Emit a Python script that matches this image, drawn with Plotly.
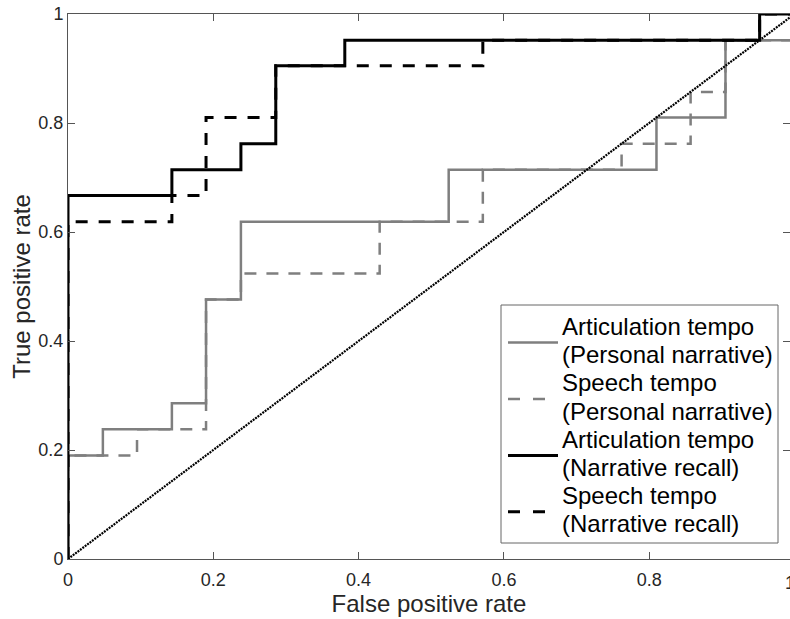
import plotly.graph_objects as go

# ROC threshold points (false positive rate, true positive rate)
art_pers_fpr = [0, 0, 0.048, 0.143, 0.190, 0.238, 0.524, 0.810, 0.905, 1.0]
art_pers_tpr = [0, 0.190, 0.238, 0.286, 0.476, 0.619, 0.714, 0.810, 0.952, 1.0]

sp_pers_fpr = [0, 0, 0.095, 0.190, 0.238, 0.429, 0.571, 0.762, 0.857, 0.905, 1.0]
sp_pers_tpr = [0, 0.190, 0.238, 0.476, 0.524, 0.619, 0.714, 0.762, 0.857, 0.952, 1.0]

art_rec_fpr = [0, 0, 0.143, 0.238, 0.286, 0.381, 0.952, 1.0]
art_rec_tpr = [0, 0.667, 0.714, 0.762, 0.905, 0.952, 1.0, 1.0]

sp_rec_fpr = [0, 0, 0.143, 0.190, 0.286, 0.571, 0.952, 1.0]
sp_rec_tpr = [0, 0.619, 0.667, 0.810, 0.905, 0.952, 1.0, 1.0]

chance = [0, 1]

name_lines = [
    ("Articulation tempo", "(Personal narrative)"),
    ("Speech tempo", "(Personal narrative)"),
    ("Articulation tempo", "(Narrative recall)"),
    ("Speech tempo", "(Narrative recall)"),
]
tick_vals = [0, 0.2, 0.4, 0.6, 0.8, 1]
tick_text = ["0", "0.2", "0.4", "0.6", "0.8", "1"]

FONT = "Liberation Sans, Arial, Helvetica, sans-serif"
GRAY = "#7f7f7f"
TXT = "#262626"
AXC = "#555555"

W, H = 790, 619
L, T, B = 68, 14, 60
PW = 726.5          # pixel width of the 0..1 range (plot runs past the window edge)
PH = H - T - B

# (colour, plot dash, legend dash, width)
styles = [
    (GRAY, "solid", "solid", 2.5),
    (GRAY, "12px,10px", "12px,13px", 2.5),
    ("black", "solid", "solid", 3),
    ("black", "12px,11px", "12px,13px", 3),
]
series = [
    (art_pers_fpr, art_pers_tpr),
    (sp_pers_fpr, sp_pers_tpr),
    (art_rec_fpr, art_rec_tpr),
    (sp_rec_fpr, sp_rec_tpr),
]

fig = go.Figure()
for (x, y), (c, d, _, w), nl in zip(series, styles, name_lines):
    fig.add_trace(go.Scatter(x=x, y=y, mode="lines", name=" ".join(nl), showlegend=False,
                             line=dict(color=c, dash=d, width=w, shape="hv")))

fig.add_trace(go.Scatter(x=chance, y=chance, mode="lines", showlegend=False,
                         line=dict(color="black", dash="2px,1px", width=2.2)))

# invisible trace carrying the right-hand tick marks
fig.add_trace(go.Scatter(x=[0], y=[0], yaxis="y2", mode="none", showlegend=False,
                         hoverinfo="skip"))

xmax = (W - L) / PW

fig.update_layout(
    width=W, height=H,
    margin=dict(l=L, r=0, t=T, b=B),
    paper_bgcolor="white", plot_bgcolor="white",
    font=dict(family=FONT, color=TXT),
    showlegend=False,
    xaxis=dict(range=[0, xmax], tickvals=tick_vals, ticktext=tick_text,
               ticks="inside", ticklen=7, tickcolor=AXC, ticklabelstandoff=4,
               showline=True, linecolor=AXC, linewidth=1, mirror="ticks",
               showgrid=False, zeroline=False,
               tickfont=dict(size=18, color=TXT),
               title=dict(text="False positive rate", font=dict(size=24, color=TXT), standoff=4)),
    yaxis=dict(range=[0, 1], tickvals=tick_vals, ticktext=tick_text,
               ticks="inside", ticklen=7, tickcolor=AXC,
               showline=True, linecolor=AXC, linewidth=1,
               showgrid=False, zeroline=False,
               tickfont=dict(size=18, color=TXT),
               title=dict(text="True positive rate", font=dict(size=24, color=TXT), standoff=0)),
    yaxis2=dict(range=[0, 1], overlaying="y", side="right", tickvals=tick_vals,
                ticks="inside", ticklen=7, tickcolor=AXC, showticklabels=False,
                showline=False, showgrid=False, zeroline=False),
)

# tick label at x = 1 lies just past the right edge of the window
fig.add_annotation(x=1 / xmax, y=0, xref="paper", yref="paper", text="1",
                   showarrow=False, yanchor="top", yshift=-12, xshift=3,
                   font=dict(size=18, color=TXT, family=FONT))

# legend box (MATLAB style, two text lines per entry)
def px_x(p):
    return (p - L) / (W - L)

def px_y(p):
    return (H - B - p) / PH

fig.add_shape(type="rect", xref="paper", yref="paper",
              x0=px_x(501), x1=px_x(778), y0=px_y(543), y1=px_y(305),
              line=dict(color="#666666", width=1), fillcolor="white", layer="above")

line_gap = 28.2
first_center = 326.5
for i, ((c, _, ld, w), nl) in enumerate(zip(styles, name_lines)):
    c1 = first_center + line_gap * (2 * i)
    c2 = c1 + line_gap
    sy = (c1 + c2) / 2 + 2
    fig.add_shape(type="line", xref="paper", yref="paper",
                  x0=px_x(508), x1=px_x(558), y0=px_y(sy), y1=px_y(sy),
                  line=dict(color=c, width=w, dash=ld), layer="above")
    for txt, cy in zip(nl, (c1, c2)):
        fig.add_annotation(x=px_x(560), y=px_y(cy), xref="paper", yref="paper",
                           text=txt, showarrow=False, xanchor="left", yanchor="middle",
                           font=dict(size=24, color="black", family=FONT))

fig.write_html("out.html")
